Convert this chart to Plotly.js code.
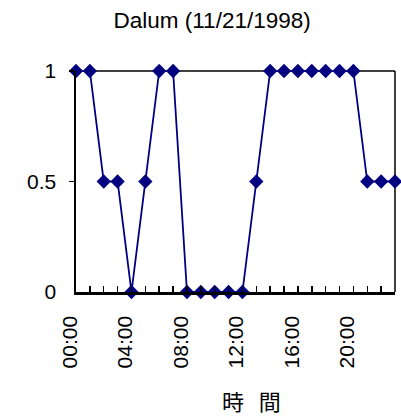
<!DOCTYPE html>
<html>
<head>
<meta charset="utf-8">
<script src="https://cdn.plot.ly/plotly-3.0.1.min.js"></script>
<style>html,body{margin:0;padding:0;background:#fff;}#chart{width:401px;height:416px;}</style>
</head>
<body>
<div id="chart"></div>
<script>
const hours = ["00:00","01:00","02:00","03:00","04:00","05:00","06:00","07:00","08:00","09:00","10:00","11:00",
               "12:00","13:00","14:00","15:00","16:00","17:00","18:00","19:00","20:00","21:00","22:00","23:00"];
const values = [1,1,0.5,0.5,0,0.5,1,1,0,0,0,0,0,0.5,1,1,1,1,1,1,1,0.5,0.5,0.5];
const yTicks = [0,0.5,1];
const yTickLabels = ["0","0.5","1"];
const yTickMarks = [0.5,1];
const titleText = "Dalum (11/21/1998)";
const xTitleText = "時\u00a0\u00a0\u00a0間";

const xIdx = hours.map((h,i)=>i);
const xTickText = hours.map((h,i)=> i % 4 === 0 ? h : "");

const trace = {
  x: xIdx, y: values, type: "scatter", mode: "lines+markers",
  line: {color: "#000080", width: 1.8},
  marker: {symbol: "diamond", size: 11, color: "#000080"},
  cliponaxis: false, hoverinfo: "none"
};

const font = "Liberation Sans, Arial, sans-serif";
const layout = {
  width: 401, height: 416,
  margin: {l: 76, r: 6, t: 71, b: 124, pad: 0},
  paper_bgcolor: "#fff", plot_bgcolor: "#fff",
  showlegend: false,
  font: {family: font, size: 21, color: "#000"},
  title: {text: titleText, font: {family: font, size: 22.5, color: "#000"},
          x: 0.529, xref: "container", xanchor: "center", y: 0.952, yref: "container", yanchor: "middle"},
  xaxis: {
    range: [0, 23], tickvals: xIdx, ticktext: xTickText, tickangle: -90,
    ticks: "inside", ticklen: 6, tickwidth: 1.5, tickcolor: "#000",
    showline: true, linecolor: "#000", linewidth: 2.5,
    showgrid: false, zeroline: false, ticklabelstandoff: 13, ticklabelshift: -6,
    tickfont: {family: font, size: 21, color: "#000"}
  },
  yaxis: {
    range: [0, 1], tickvals: yTicks, ticktext: yTickLabels,
    ticks: "", 
    minor: {tickvals: yTickMarks, ticks: "outside", ticklen: 5, tickwidth: 1.5, tickcolor: "#000", showgrid: false},
    showline: true, linecolor: "#000", linewidth: 2.5,
    showgrid: false, zeroline: false, ticklabelstandoff: 13,
    tickfont: {family: font, size: 21, color: "#000"}
  },
  shapes: [
    {type: "line", xref: "paper", yref: "paper", x0: 0, x1: 1, y0: 1, y1: 1, line: {color: "#000", width: 1.5}, layer: "below"},
    {type: "line", xref: "paper", yref: "paper", x0: 1, x1: 1, y0: 0, y1: 1, line: {color: "#000", width: 1.5}, layer: "below"}
  ],
  annotations: [
    {text: xTitleText, xref: "paper", yref: "paper", x: 0.55, y: -0.49, xanchor: "center", yanchor: "middle",
     showarrow: false, font: {family: "Noto Sans CJK JP, sans-serif", size: 22, color: "#000"}}
  ]
};

Plotly.newPlot("chart", [trace], layout, {staticPlot: true, displayModeBar: false});
</script>
</body>
</html>
